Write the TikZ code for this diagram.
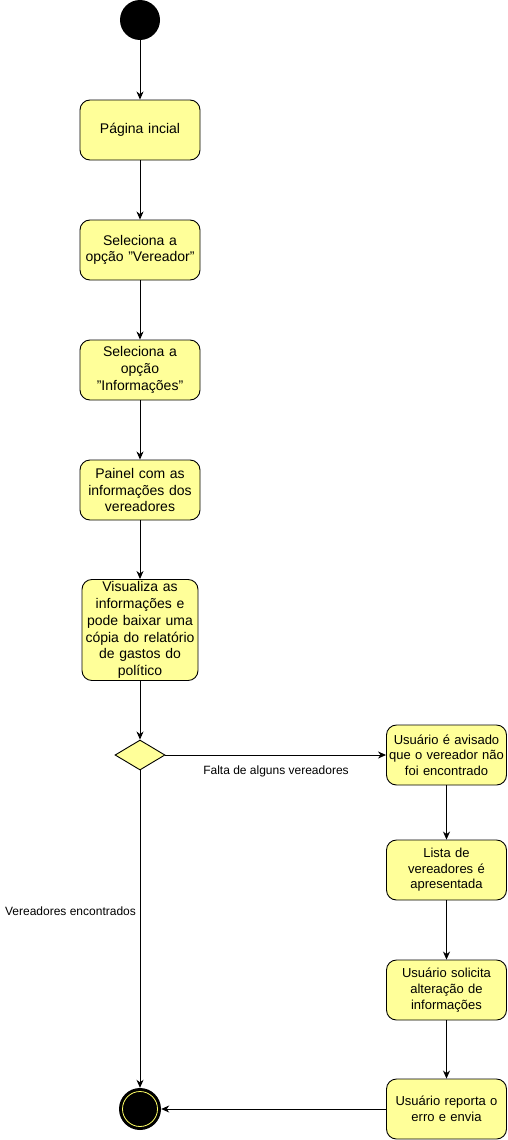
\documentclass[tikz,border=0pt]{standalone}
\usepackage{fontspec}
\setmainfont{Liberation Sans}
\usetikzlibrary{shapes.geometric,arrows.meta}
\definecolor{actfill}{HTML}{FFFF99}
\definecolor{ringcol}{HTML}{FFFF66}
\newcommand{\sq}{\symbol{34}}
\tikzset{
  actbox/.style={draw=black, line width=0.9pt, fill=actfill, rounded corners=10pt,
    minimum width=120pt, minimum height=60pt, inner sep=2pt, align=center,
    text width=112pt, font=\fontsize{14}{16.8}\selectfont},
  actboxs/.style={actbox, inner sep=0pt, text width=120pt, font=\fontsize{13}{15.6}\selectfont},
  decis/.style={draw=black, line width=0.9pt, fill=actfill, diamond, minimum width=50pt,
    minimum height=30pt, inner sep=0pt},
  flow/.style={draw=black, line width=0.9pt, -{Stealth[length=8pt,width=7pt,inset=2.5pt]}},
  lbl/.style={font=\fontsize{12}{14.4}\selectfont, inner sep=1pt}
}
\begin{document}
\begin{tikzpicture}[x=1pt,y=-1pt]
\useasboundingbox (0,0) rectangle (507,1140);
\node[circle, fill=black, minimum size=40pt, inner sep=0pt] (start) at (140,20) {};
\node[actbox] (b1) at (140,130) {Página incial};
\node[actbox] (b2) at (140,250) {Seleciona a\\opção \sq Vereador\sq};
\node[actbox] (b3) at (140,370) {Seleciona a\\opção\\\sq Informações\sq};
\node[actbox] (b4) at (140,490) {Painel com as\\informações dos\\vereadores};
\node[actbox, minimum width=116pt, text width=110pt, minimum height=100pt] (b5) at (140,630) {Visualiza as\\informações e\\pode baixar uma\\cópia do relatório\\de gastos do\\político};
\node[decis] (dec) at (140,755) {};
\node[actboxs] (r1) at (446.5,755) {Usuário é avisado\\que o vereador não\\foi encontrado};
\node[actboxs] (r2) at (446.5,870) {Lista de\\vereadores é\\apresentada};
\node[actboxs] (r3) at (446.5,990) {Usuário solicita\\alteração de\\informações};
\node[actboxs] (r4) at (446.5,1109) {Usuário reporta o\\erro e envia};
\node[circle, fill=black, minimum size=42pt, inner sep=0pt] (end) at (140,1109) {};
\draw[ringcol, line width=0.8pt] (end.center) circle (17.5pt);

\draw[flow] (start) -- (b1);
\draw[flow] (b1) -- (b2);
\draw[flow] (b2) -- (b3);
\draw[flow] (b3) -- (b4);
\draw[flow] (b4) -- (b5);
\draw[flow] (b5) -- (dec);
\draw[flow] (dec.east) -- (r1.west);
\node[lbl] (l1) at (276,771) {Falta de alguns vereadores};
\draw[flow] (dec.south) -- (end.north);
\node[lbl] (l2) at (70.5,911) {Vereadores encontrados};
\draw[flow] (r1) -- (r2);
\draw[flow] (r2) -- (r3);
\draw[flow] (r3) -- (r4);
\draw[flow] (r4.west) -- (end.east);
\end{tikzpicture}
\end{document}
